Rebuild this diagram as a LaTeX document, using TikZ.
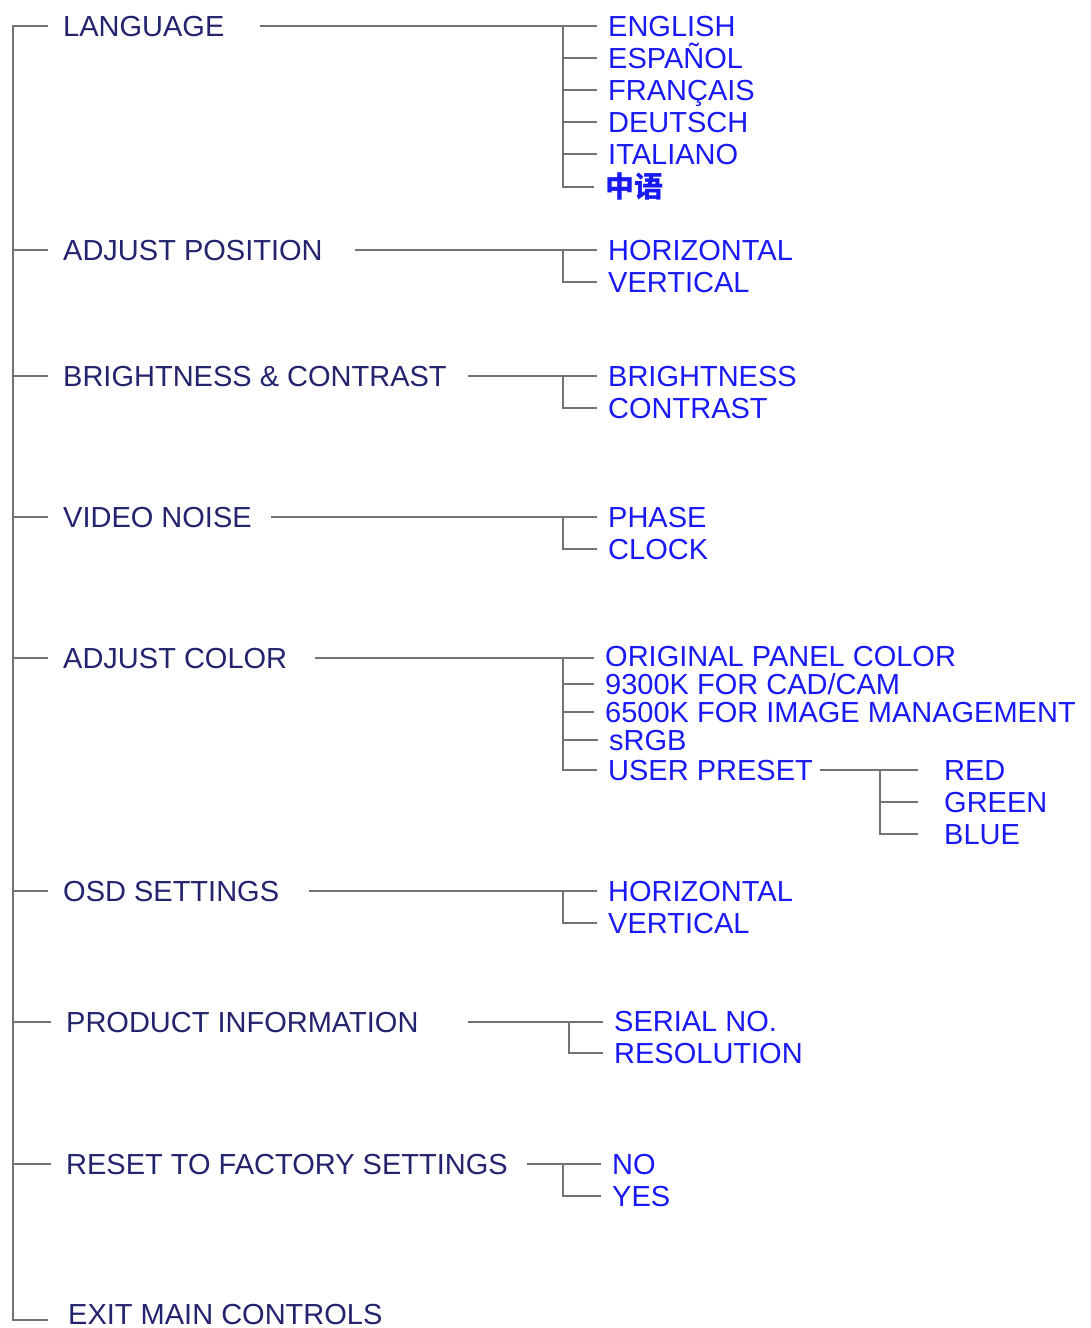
\documentclass[tikz,border=0pt]{standalone}
\usepackage{fontspec}
\setmainfont{Liberation Sans}
\newfontfamily\cjk{Noto Sans CJK SC}
\definecolor{menunavy}{RGB}{35,35,110}
\definecolor{itemblue}{RGB}{25,25,245}
\definecolor{treegray}{RGB}{115,115,115}
\tikzset{
  menu/.style={anchor=west, inner sep=0pt, text height=21pt, text depth=0pt,
    text=menunavy, font=\fontsize{29}{32}\selectfont},
  item/.style={menu, text=itemblue},
  branch/.style={draw=treegray, line width=2.6pt},
}
\begin{document}
\begin{tikzpicture}[x=1pt,y=-1pt]
  \useasboundingbox (0,0) rectangle (1090,1328);

  % main menu
  \foreach \n/\x/\y/\t in {lang/63/26/LANGUAGE, pos/63/250/ADJUST POSITION,
      bc/63/376/{BRIGHTNESS \& CONTRAST}, noise/63/517/VIDEO NOISE,
      color/63/658/ADJUST COLOR, osd/63/891/OSD SETTINGS,
      info/66/1022/PRODUCT INFORMATION, reset/66/1164/RESET TO FACTORY SETTINGS,
      exit/68/1314/EXIT MAIN CONTROLS}
    {\node[menu] (\n) at (\x,\y) {\t};}

  % sub menus
  \foreach \n/\y/\t in {eng/26/ENGLISH, esp/58/ESPAÑOL, fra/90/FRANÇAIS,
      deu/122/DEUTSCH, ita/154/ITALIANO,
      hpos/250/HORIZONTAL, vpos/282/VERTICAL,
      bri/376/BRIGHTNESS, con/408/CONTRAST,
      pha/517/PHASE, clk/549/CLOCK,
      hosd/891/HORIZONTAL, vosd/923/VERTICAL}
    {\node[item] (\n) at (608,\y) {\t};}
  \node[item, font=\cjk\bfseries\fontsize{29}{32}\selectfont] (zh) at (605,187) {中语};
  \foreach \n/\x/\y/\t in {orig/605/656/ORIGINAL PANEL COLOR, k93/605/684/{9300K FOR CAD/CAM},
      k65/605/712/6500K FOR IMAGE MANAGEMENT, srgb/609/740/sRGB, user/608/770/USER PRESET,
      red/944/770/RED, green/944/802/GREEN, blue/944/834/BLUE,
      serial/614/1021/SERIAL NO., res/614/1053/RESOLUTION,
      no/612/1164/NO, yes/612/1196/YES}
    {\node[item] (\n) at (\x,\y) {\t};}

  % main spine
  \coordinate (spine) at (13,26);
  \coordinate (spineend) at (13,1320);
  \draw[branch] (48,26) -- (spine) -- (spineend) -- (48,1320);
  \foreach \m in {pos,bc,noise,color,osd,info,reset}
    {\draw[branch] (spine |- \m.west) -- ([xshift=-15pt]\m.west);}

  % forks
  \coordinate (langfork) at (563,26);
  \coordinate (posfork) at (563,250);
  \coordinate (bcfork) at (563,376);
  \coordinate (noisefork) at (563,517);
  \coordinate (colorfork) at (563,658);
  \coordinate (osdfork) at (563,891);
  \coordinate (infofork) at (569,1022);
  \coordinate (resetfork) at (563,1164);

  \foreach \m/\x/\s in {lang/260/eng, pos/355/hpos, bc/468/bri,
      noise/271/pha, color/315/orig,
      osd/309/hosd, info/468/serial, reset/527/no}
    {\draw[branch] (\x,0 |- \m.east) -- ([xshift=-11pt]\s.west |- \m.east);}

  \foreach \f/\s in {langfork/esp, langfork/fra, langfork/deu, langfork/ita, langfork/zh,
      posfork/vpos, bcfork/con, noisefork/clk,
      colorfork/k93, colorfork/k65, colorfork/srgb, colorfork/user,
      osdfork/vosd, infofork/res, resetfork/yes}
    {\draw[branch] (\f) |- ([xshift=-11pt]\s.west);}

  % user preset colours
  \coordinate (userfork) at (880,770);
  \draw[branch] ([xshift=7pt]user.east) -- ([xshift=-26pt]red.west |- user.east);
  \foreach \s in {green,blue}
    {\draw[branch] (userfork) |- ([xshift=-26pt]\s.west);}
\end{tikzpicture}
\end{document}
